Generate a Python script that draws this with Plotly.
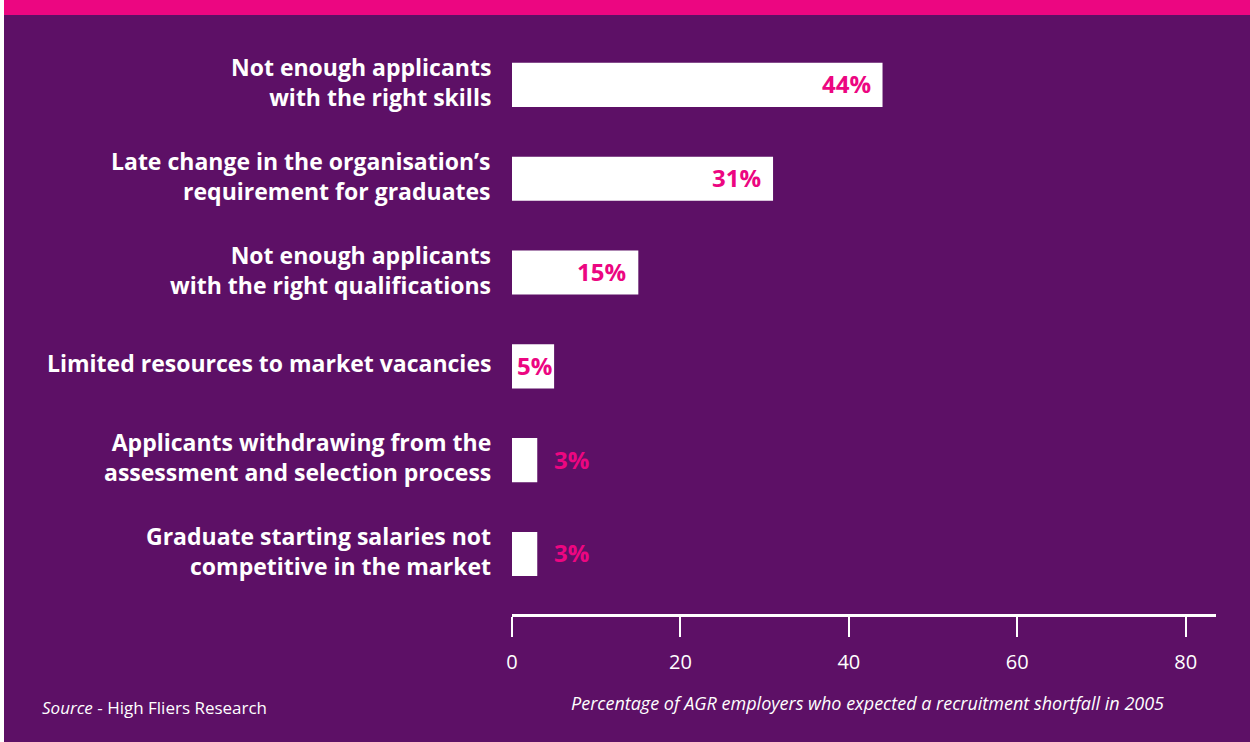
import plotly.graph_objects as go

# ---- data ----
categories = [
    "Not enough applicants<br>with the right skills",
    "Late change in the organisation’s<br>requirement for graduates",
    "Not enough applicants<br>with the right qualifications",
    "Limited resources to market vacancies",
    "Applicants withdrawing from the<br>assessment and selection process",
    "Graduate starting salaries not<br>competitive in the market",
]
values = [44, 31, 15, 5, 3, 3]
x_ticks = [0, 20, 40, 60, 80]
x_tick_labels = ["0", "20", "40", "60", "80"]

# ---- styling ----
W, H = 1250, 742
PURPLE = "#5D1066"
PINK = "#EC0681"
WHITE = "#FFFFFF"
FONT = "Open Sans"

ML, MR, MT, MB = 512, 34, 38, 128
plot_w = W - ML - MR
plot_h = H - MT - MB


def px_to_paper_x(px):
    return (px - ML) / plot_w


def px_to_paper_y(py):
    return (H - MB - py) / plot_h


fig = go.Figure()

fig.add_trace(go.Bar(
    x=values,
    y=categories,
    orientation="h",
    marker=dict(color=WHITE, line=dict(width=0)),
    width=0.47,
    hoverinfo="skip",
))

# category labels, right-aligned to the left of the bars
for cat in categories:
    fig.add_annotation(
        x=0, y=cat, xref="x", yref="y",
        text=f"<b>{cat}</b>",
        showarrow=False, xanchor="right", align="right",
        xshift=-19, yshift=3,
        font=dict(family=FONT, size=23, color=WHITE),
    )

# value labels: inside the bar end when it is wide, centred in a narrow bar,
# otherwise just after the bar
for cat, v in zip(categories, values):
    if v >= 10:
        pos = dict(x=v, xanchor="right", xshift=-10)
    elif v >= 5:
        pos = dict(x=v / 2, xanchor="center", xshift=1)
    else:
        pos = dict(x=v, xanchor="left", xshift=15)
    fig.add_annotation(
        y=cat, xref="x", yref="y",
        text=f"<b>{v}%</b>",
        showarrow=False, yshift=1,
        font=dict(family=FONT, size=24, color=PINK),
        **pos,
    )

# footer texts
fig.add_annotation(
    x=px_to_paper_x(40), y=px_to_paper_y(707), xref="paper", yref="paper",
    text="<i>Source</i> - High Fliers Research",
    showarrow=False, xanchor="left", yanchor="middle",
    font=dict(family=FONT, size=17, color=WHITE),
)
fig.add_annotation(
    x=px_to_paper_x(569), y=px_to_paper_y(703), xref="paper", yref="paper",
    text="<i>Percentage of AGR employers who expected a recruitment shortfall in 2005</i>",
    showarrow=False, xanchor="left", yanchor="middle",
    font=dict(family=FONT, size=18, color=WHITE),
)

# top band and left edge strip
fig.add_shape(type="rect", xref="paper", yref="paper",
              x0=px_to_paper_x(0), x1=px_to_paper_x(W),
              y0=px_to_paper_y(15), y1=px_to_paper_y(0),
              fillcolor=PINK, line=dict(width=0), layer="below")
fig.add_shape(type="rect", xref="paper", yref="paper",
              x0=px_to_paper_x(0), x1=px_to_paper_x(4),
              y0=px_to_paper_y(H), y1=px_to_paper_y(0),
              fillcolor=WHITE, line=dict(width=0), layer="above")

fig.update_layout(
    width=W, height=H,
    margin=dict(l=ML, r=MR, t=MT, b=MB, pad=0),
    paper_bgcolor=PURPLE,
    plot_bgcolor=PURPLE,
    showlegend=False,
    xaxis=dict(
        range=[0, 83.6],
        tickvals=x_ticks,
        ticktext=x_tick_labels,
        showgrid=False, zeroline=False,
        showline=True, linecolor=WHITE, linewidth=3,
        ticks="outside", ticklen=20, tickwidth=2, tickcolor=WHITE,
        ticklabelstandoff=8,
        tickfont=dict(family=FONT, size=20, color=WHITE),
        fixedrange=True,
    ),
    yaxis=dict(
        categoryorder="array",
        categoryarray=categories,
        range=[5.64, -0.5],
        showgrid=False, zeroline=False, showline=False,
        ticks="", showticklabels=False,
        fixedrange=True,
    ),
    font=dict(family=FONT, color=WHITE),
)

fig.write_html("out.html")
